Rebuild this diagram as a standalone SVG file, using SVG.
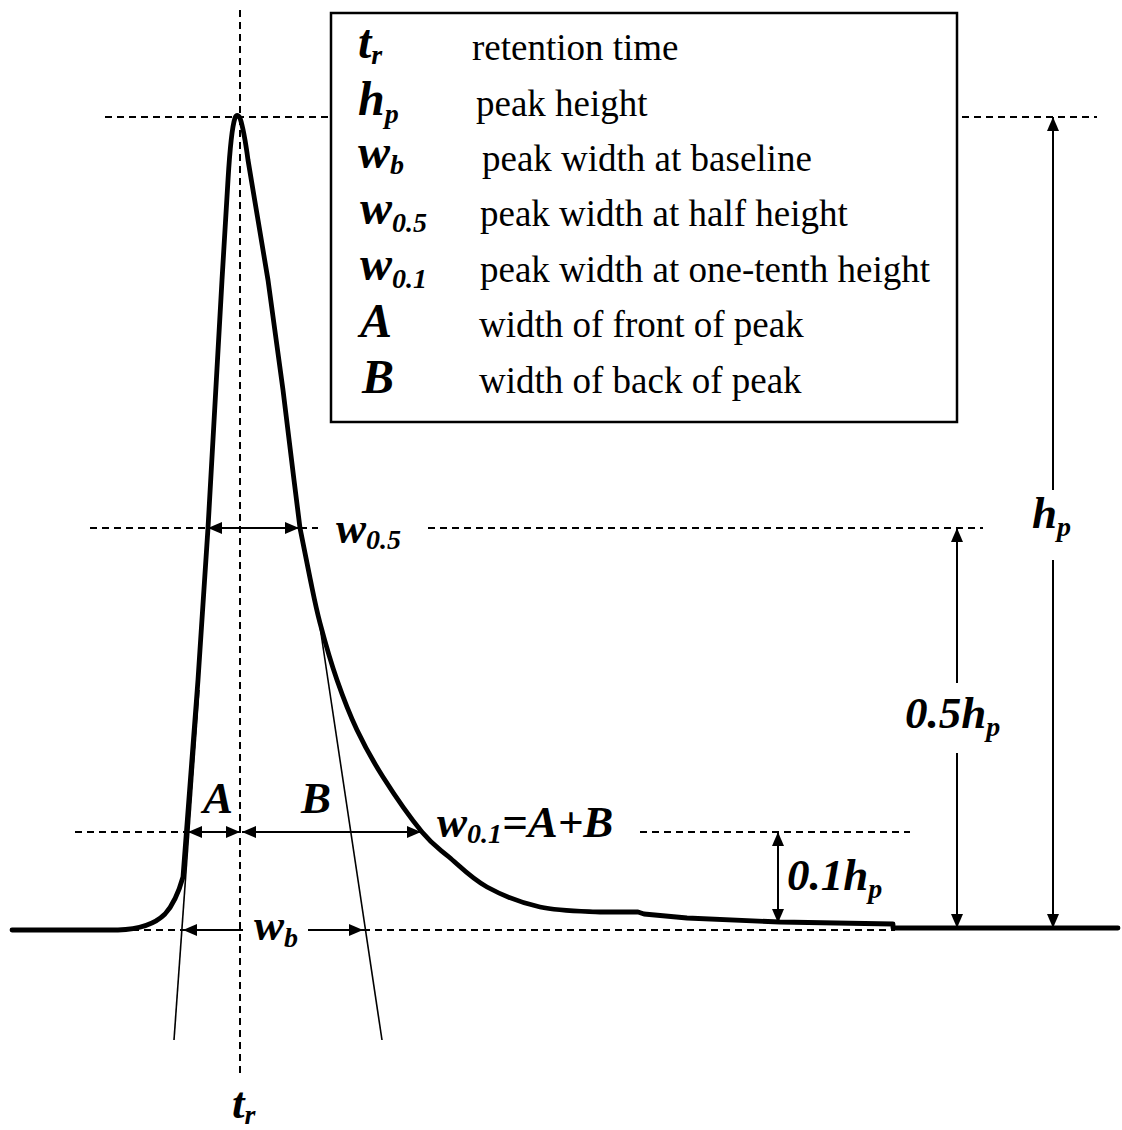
<svg xmlns="http://www.w3.org/2000/svg" width="1122" height="1130" viewBox="0 0 1122 1130">
<style>
.dash{stroke:#000;stroke-width:2;stroke-dasharray:7 5;fill:none}
.arr{stroke:#000;stroke-width:2;fill:none}
.thin{stroke:#000;stroke-width:1.6;fill:none}
.curve{stroke:#000;stroke-width:4.8;fill:none;stroke-linejoin:round;stroke-linecap:round}
.desc{font-family:"Liberation Serif","Times New Roman",serif;font-size:37px;fill:#000}
.sym{font-family:"Liberation Serif","Times New Roman",serif;font-size:48px;font-weight:bold;font-style:italic;fill:#000}
.lab{font-family:"Liberation Serif","Times New Roman",serif;font-size:45px;font-weight:bold;font-style:italic;fill:#000}
.sub{font-size:28px}
</style>
<defs>
<marker id="ah" viewBox="0 0 14 12" refX="14" refY="6" markerWidth="14" markerHeight="12" markerUnits="userSpaceOnUse" orient="auto-start-reverse">
<path d="M0,0 L14,6 L0,12 z" fill="#000"/>
</marker>
</defs>
<rect width="1122" height="1130" fill="#fff"/>

<g id="guides">
<line class="dash" x1="240" y1="10" x2="240" y2="1078"/>
<line class="dash" x1="105" y1="117" x2="331" y2="117"/>
<line class="dash" x1="962" y1="117" x2="1097" y2="117"/>
<line class="dash" x1="90" y1="528" x2="208" y2="528"/>
<line class="dash" x1="300" y1="528" x2="318" y2="528"/>
<line class="dash" x1="428" y1="528" x2="983" y2="528"/>
<line class="dash" x1="75" y1="832" x2="187" y2="832"/>
<line class="dash" x1="640" y1="832" x2="910" y2="832"/>
<line class="dash" x1="120" y1="930" x2="183" y2="930"/>
<line class="dash" x1="363" y1="930" x2="895" y2="930"/>
<line class="thin" x1="174" y1="1040" x2="199" y2="690"/>
<line class="thin" x1="382" y1="1040" x2="319" y2="620"/>
</g>

<g id="peak">
<path class="curve" d="M12,930 L118,930 Q150,929 165,914 Q176,902 183,877 L198,680 L208,528 L222,280 L228,180 Q231,130 235,118 Q237,113 240,118 Q244,130 248,160 L268,280 L283,390 L294,480 L300,528 L310,578 C313.3,593.8 315.5,606 320,623 C324.5,640 330.8,662.2 337,680 C343.2,697.8 349.3,713.8 357,730 C364.7,746.2 372.2,760 383,777 C393.8,794 411,818.7 422,832 C433,845.3 438.2,847.8 449,857 C459.8,866.2 471.8,878.7 487,887 C502.5,895.5 521.2,902.8 540,907 C558.8,911.2 583.7,911.2 600,912 L638,912 L644,914 L687,918 L780,922 L893,924 L893,928 L1118,928"/>
</g>

<g id="legend">
<rect x="331" y="13" width="626" height="409" fill="#fff" stroke="#000" stroke-width="2.5"/>
<text class="sym" x="358" y="58">t<tspan class="sub" dy="6">r</tspan></text>
<text class="desc" x="472" y="60">retention time</text>
<text class="sym" x="358" y="115">h<tspan class="sub" dy="8">p</tspan></text>
<text class="desc" x="476" y="116">peak height</text>
<text class="sym" x="358" y="168">w<tspan class="sub" dy="6">b</tspan></text>
<text class="desc" x="482" y="171">peak width at baseline</text>
<text class="sym" x="360" y="224">w<tspan class="sub" dy="8">0.5</tspan></text>
<text class="desc" x="480" y="226">peak width at half height</text>
<text class="sym" x="360" y="280">w<tspan class="sub" dy="8">0.1</tspan></text>
<text class="desc" x="480" y="282">peak width at one-tenth height</text>
<text class="sym" x="360" y="337">A</text>
<text class="desc" x="479" y="337">width of front of peak</text>
<text class="sym" x="362" y="393">B</text>
<text class="desc" x="479" y="393">width of back of peak</text>
</g>

<g id="connectors">
<line class="arr" x1="208" y1="528" x2="299" y2="528" marker-start="url(#ah)" marker-end="url(#ah)"/>
<line class="arr" x1="188" y1="832" x2="240" y2="832" marker-start="url(#ah)" marker-end="url(#ah)"/>
<line class="arr" x1="242" y1="832" x2="421" y2="832" marker-start="url(#ah)" marker-end="url(#ah)"/>
<line class="arr" x1="243" y1="930" x2="183" y2="930" marker-end="url(#ah)"/>
<line class="arr" x1="308" y1="930" x2="363" y2="930" marker-end="url(#ah)"/>
<line class="arr" x1="1053" y1="117" x2="1053" y2="490" marker-start="url(#ah)"/>
<line class="arr" x1="1053" y1="560" x2="1053" y2="928" marker-end="url(#ah)"/>
<line class="arr" x1="957" y1="528" x2="957" y2="683" marker-start="url(#ah)"/>
<line class="arr" x1="957" y1="753" x2="957" y2="928" marker-end="url(#ah)"/>
<line class="arr" x1="778" y1="832" x2="778" y2="923" marker-start="url(#ah)" marker-end="url(#ah)"/>
</g>

<g id="labels">
<text class="lab" x="336" y="543">w<tspan class="sub" dy="6">0.5</tspan></text>
<text class="lab" x="203" y="813">A</text>
<text class="lab" x="301" y="813">B</text>
<text class="lab" x="437" y="837">w<tspan class="sub" dy="6">0.1</tspan><tspan dy="-6">=A+B</tspan></text>
<text class="lab" x="254" y="940">w<tspan class="sub" dy="7">b</tspan></text>
<text class="lab" x="1032" y="528">h<tspan class="sub" dy="8">p</tspan></text>
<text class="lab" x="905" y="728">0.5h<tspan class="sub" dy="8">p</tspan></text>
<text class="lab" x="787" y="890">0.1h<tspan class="sub" dy="8">p</tspan></text>
<text class="lab" x="232" y="1118">t<tspan class="sub" dy="6">r</tspan></text>
</g>
</svg>
